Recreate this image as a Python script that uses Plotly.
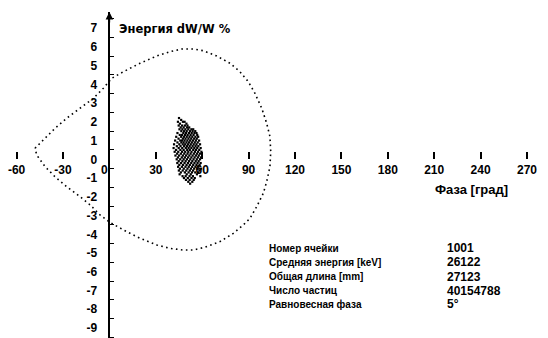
import plotly.graph_objects as go

# ---------------- data ----------------
x_ticks = [-60, -30, 0, 30, 60, 90, 120, 150, 180, 210, 240, 270]
x_ticktext = ["-60", "-30", "0\u00a0\u00a0\u00a0", "30", "60", "90", "120", "150", "180", "210", "240", "270"]
y_ticks = [7, 6, 5, 4, 3, 2, 1, 0, -1, -2, -3, -4, -5, -6, -7, -8, -9]
y_ticktext = ["7", "6", "5", "4", "3", "2", "1", "0", "-1", "-2", "-3", "-4", "-5", "-6", "-7", "-8", "-9"]

# separatrix (phase [deg], dW/W [%])
sep_phase = [-48.1, -42.7, -35.2, -27.6, -19.0, -10.4, -3.9, 1.5, 9.0, 19.8, 30.6, 39.2,
             46.7, 54.2, 60.7, 69.4, 78.0, 84.4, 89.8, 94.1, 98.5, 101.7, 103.8, 104.3,
             103.8, 101.7, 99.5, 95.2, 90.9, 86.6, 80.1, 71.5, 61.8, 54.1, 47.6, 39.2,
             30.6, 19.8, 11.2, 3.6, 0.4, -6.1, -12.5, -19.0, -27.6, -35.2, -41.6, -47.0, -48.1]
sep_energy = [0.59, 1.03, 1.65, 2.19, 2.72, 3.25, 3.79, 4.32, 4.67, 5.12, 5.51, 5.74,
              5.88, 5.88, 5.79, 5.51, 5.12, 4.67, 4.14, 3.52, 2.72, 1.92, 1.21, 0.41,
              -0.39, -1.19, -1.81, -2.53, -3.15, -3.50, -3.95, -4.39, -4.69, -4.84, -4.84, -4.75,
              -4.57, -4.21, -3.86, -3.50, -3.37, -2.96, -2.43, -1.99, -1.46, -0.93, -0.39, 0.23, 0.59]

# particle cloud, row by row (energy value, phases on that row)
cloud_rows = [
    (2.2, [45.0]),
    (2.1, [46.4]),
    (2.0, [44.3, 47.5, 48.6]),
    (1.9, [45.6, 49.8]),
    (1.8, [44.8, 47.0, 48.8, 50.5]),
    (1.7, [46.1, 48.0, 50.2, 51.6]),
    (1.6, [45.3, 47.2, 49.1, 51.0, 53.0, 54.2]),
    (1.5, [46.5, 48.3, 50.0, 52.1, 53.8, 55.5]),
    (1.4, [44.0, 47.8, 49.5, 51.4, 53.2, 55.0, 56.3]),
    (1.3, [45.5, 47.0, 48.9, 50.6, 52.5, 54.4, 56.8]),
    (1.2, [43.2, 46.4, 48.2, 50.0, 51.8, 53.6, 55.6, 57.4]),
    (1.1, [44.7, 47.5, 49.2, 51.1, 52.9, 54.8, 56.5]),
    (1.0, [42.5, 45.8, 47.0, 48.6, 50.4, 52.2, 54.0, 55.9, 58.0]),
    (0.9, [44.0, 46.5, 48.0, 49.8, 51.5, 53.3, 55.2, 57.1]),
    (0.8, [41.8, 45.2, 47.4, 49.0, 50.8, 52.6, 54.5, 56.3, 58.6]),
    (0.7, [43.6, 46.0, 48.3, 50.1, 51.9, 53.8, 55.7, 57.5]),
    (0.6, [41.5, 44.8, 47.1, 49.4, 51.2, 53.0, 54.9, 56.8, 59.0]),
    (0.5, [43.1, 45.9, 48.0, 50.3, 52.0, 54.2, 56.0, 58.1]),
    (0.4, [42.2, 44.5, 47.0, 49.0, 51.0, 53.1, 55.3, 57.3, 59.5]),
    (0.3, [43.8, 46.2, 48.4, 50.5, 52.5, 54.6, 56.6, 58.5]),
    (0.2, [42.7, 45.1, 47.5, 49.6, 51.7, 53.8, 55.9, 57.8]),
    (0.1, [44.3, 46.8, 48.8, 50.9, 53.0, 55.1, 57.2, 59.2]),
    (0.0, [43.5, 45.8, 48.0, 50.1, 52.3, 54.4, 56.5, 58.6]),
    (-0.1, [44.8, 47.2, 49.3, 51.5, 53.6, 55.8, 57.7]),
    (-0.2, [43.9, 46.3, 48.6, 50.8, 52.9, 55.0, 57.0, 59.0]),
    (-0.3, [45.2, 47.6, 49.9, 52.0, 54.2, 56.3, 58.3]),
    (-0.4, [44.4, 46.9, 49.2, 51.3, 53.5, 55.6, 57.6]),
    (-0.5, [45.6, 48.1, 50.5, 52.7, 54.8, 56.9, 59.3]),
    (-0.6, [44.9, 47.4, 49.7, 52.0, 54.1, 58.2]),
    (-0.7, [46.2, 48.8, 51.2, 53.4, 55.5, 57.4]),
    (-0.8, [45.4, 50.0, 52.6, 56.6]),
    (-0.9, [47.3, 49.3, 51.8, 54.0, 58.8]),
    (-1.0, [48.2, 50.7, 53.1, 55.2]),
    (-1.1, [49.5, 51.9, 54.5]),
    (-1.2, [51.0, 53.6]),
    (-1.3, [52.2]),
]

info_labels = ["Номер ячейки", "Средняя энергия [keV]", "Общая длина [mm]",
               "Число частиц", "Равновесная фаза"]
info_values = ["1001", "26122", "27123", "40154788", "5°"]

title_text = "Энергия dW/W %"
xlabel_text = "Фаза [град]"

# ---------------- layout geometry ----------------
W, H = 548, 338
TOP = 12
X_MIN, X_MAX = -70.73, 283.57
Y_MIN, Y_MAX = -9.531, 7.856


def px_to_x(px):
    return X_MIN + (X_MAX - X_MIN) * px / W


def py_to_y(py):
    return Y_MAX - (Y_MAX - Y_MIN) * (py - TOP) / (H - TOP)


cloud_x = [p for v, row in cloud_rows for p in row]
cloud_y = [v for v, row in cloud_rows for p in row]

FONT_AX = "Liberation Sans, Arial, sans-serif"
FONT_TX = "Liberation Sans, Arial, sans-serif"

fig = go.Figure()
fig.add_trace(go.Scatter(x=sep_phase, y=sep_energy, mode="lines",
                         line=dict(color="black", width=1.6, dash="1.6px,3.4px"),
                         hoverinfo="skip", showlegend=False))
fig.add_trace(go.Scatter(x=cloud_x, y=cloud_y, mode="markers",
                         marker=dict(symbol="square", size=2.2, color="black",
                                     line=dict(width=0)),
                         showlegend=False))

annotations = [
    dict(x=px_to_x(117), y=py_to_y(29), xref="x", yref="y", text=title_text,
         showarrow=False, xanchor="left", yanchor="middle",
         font=dict(family="DejaVu Sans", size=11.5, color="black", weight="bold")),
    dict(x=px_to_x(471), y=py_to_y(189), xref="x", yref="y", text=xlabel_text,
         showarrow=False, xanchor="center", yanchor="middle",
         font=dict(family=FONT_TX, size=13, color="black", weight="bold")),
    # arrow at the top of the energy axis
    dict(x=0, y=py_to_y(12), ax=0, ay=py_to_y(24), xref="x", yref="y",
         axref="x", ayref="y", text="", showarrow=True, arrowhead=2,
         arrowsize=1, arrowwidth=1.5, arrowcolor="black"),
]
row_py = [248, 262, 276.5, 290.5, 304]
for lab, val, py in zip(info_labels, info_values, row_py):
    annotations.append(dict(x=px_to_x(267), y=py_to_y(py), xref="x", yref="y",
                            text=lab, showarrow=False, xanchor="left", yanchor="middle",
                            font=dict(family=FONT_TX, size=10, color="black", weight="bold")))
    annotations.append(dict(x=px_to_x(445), y=py_to_y(py), xref="x", yref="y",
                            text=val, showarrow=False, xanchor="left", yanchor="middle",
                            font=dict(family=FONT_AX, size=12, color="black", weight="bold")))

fig.update_layout(
    width=W, height=H,
    margin=dict(l=0, r=0, t=TOP, b=0, pad=0),
    paper_bgcolor="white", plot_bgcolor="white",
    showlegend=False,
    annotations=annotations,
    xaxis=dict(range=[X_MIN, X_MAX], anchor="free",
               position=(0 - Y_MIN) / (Y_MAX - Y_MIN),
               showgrid=False, zeroline=False, showline=False,
               tickmode="array", tickvals=x_ticks, ticktext=x_ticktext,
               ticks="inside", ticklen=7, tickwidth=1.5, tickcolor="black",
               ticklabelstandoff=2,
               tickfont=dict(family=FONT_AX, size=12, color="black", weight="bold")),
    yaxis=dict(range=[Y_MIN, Y_MAX], anchor="free",
               position=(0 - X_MIN) / (X_MAX - X_MIN),
               showgrid=False, zeroline=False, showline=True,
               linecolor="black", linewidth=1.5,
               tickmode="array", tickvals=y_ticks, ticktext=y_ticktext,
               ticks="", ticklabelstandoff=9,
               minor=dict(tick0=0.5, dtick=1, ticks="inside", ticklen=4,
                          tickwidth=1.2, tickcolor="black"),
               tickfont=dict(family=FONT_AX, size=12, color="black", weight="bold")),
)

fig.write_html("out.html")
